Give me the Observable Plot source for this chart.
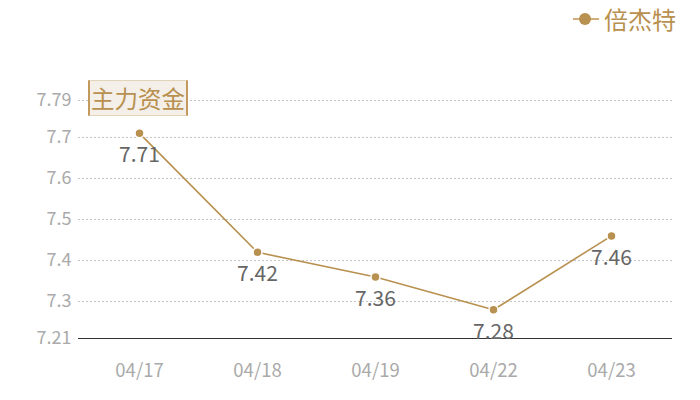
<!DOCTYPE html>
<html>
<head>
<meta charset="utf-8">
<script src="https://cdn.jsdelivr.net/npm/d3@7"></script>
<script src="https://cdn.jsdelivr.net/npm/@observablehq/plot@0.6"></script>
<style>
  html, body { margin: 0; padding: 0; background: #fff; }
  #wrap { position: relative; width: 700px; height: 400px; font-family: "Noto Sans CJK SC", "Noto Sans", sans-serif; }
  #legend { position: absolute; top: 1px; right: 24px; display: flex; align-items: center; color: #b8904f; font-size: 24px; }
  #legend .sym { position: relative; width: 26px; height: 20px; margin-right: 5px; }
  #legend .sym .ln { position: absolute; left: 0; right: 0; top: 9px; height: 2px; background: #cfae7a; }
  #legend .sym .dt { position: absolute; left: 6px; top: 4px; width: 12px; height: 12px; border-radius: 50%; background: #b8904f; }
  #title { position: absolute; left: 88px; top: 80px; height: 34px; padding: 0 1px; border-top: 1px solid #e3d3b8; border-bottom: 1px solid #e3d3b8; border-left: 2px solid #c49a5c; border-right: 2px solid #c49a5c; background: #f4efe8; color: #b8904f; font-size: 23.5px; line-height: 34px; white-space: nowrap; }
  svg { font-family: "Noto Sans CJK SC", "Noto Sans", sans-serif; }
</style>
</head>
<body>
<div id="wrap">
  <div id="legend"><span class="sym"><span class="ln"></span><span class="dt"></span></span><span>倍杰特</span></div>
</div>
<script>
const dates = ["04/17", "04/18", "04/19", "04/22", "04/23"];
const values = [7.71, 7.42, 7.36, 7.28, 7.46];
const yTicks = [7.21, 7.3, 7.4, 7.5, 7.6, 7.7, 7.79];
const seriesName = "倍杰特";
const titleText = "主力资金";

const data = dates.map((d, i) => ({date: d, value: values[i]}));
const gold = "#b8904f";

const chart = Plot.plot({
  width: 700,
  height: 400,
  marginLeft: 78,
  marginRight: 28,
  marginTop: 100,
  marginBottom: 62,
  x: {type: "point", domain: dates, padding: 0.5, label: null},
  y: {domain: [7.21, 7.79], label: null},
  style: {fontSize: "18px", color: "#aaa", background: "#fff"},
  marks: [
    Plot.ruleY(yTicks.slice(1), {stroke: "#c4c4c4", strokeDasharray: "2,2", strokeWidth: 1}),
    Plot.ruleY([7.21], {stroke: "#333", strokeWidth: 1}),
    Plot.axisY({ticks: yTicks, tickSize: 0, tickPadding: 7, fontSize: 18, fill: "#aaa", tickFormat: d => String(d), label: null}),
    Plot.axisX({tickSize: 0, tickPadding: 25, fontSize: 18.5, fill: "#aaa", label: null}),
    Plot.line(data, {x: "date", y: "value", stroke: gold, strokeWidth: 1.6}),
    Plot.dot(data, {x: "date", y: "value", r: 4.5, fill: gold, stroke: "#fff", strokeWidth: 1.5}),
    Plot.text(data, {x: "date", y: "value", text: d => d.value.toFixed(2), dy: 22, fontSize: 21, fill: "#666"})
  ]
});
const wrap = document.getElementById("wrap");
wrap.insertBefore(chart, wrap.firstChild);
chart.style.position = "absolute";
chart.style.left = "0";
chart.style.top = "0";
const t = document.createElement("div");
t.id = "title";
t.textContent = titleText;
wrap.appendChild(t);
</script>
</body>
</html>
